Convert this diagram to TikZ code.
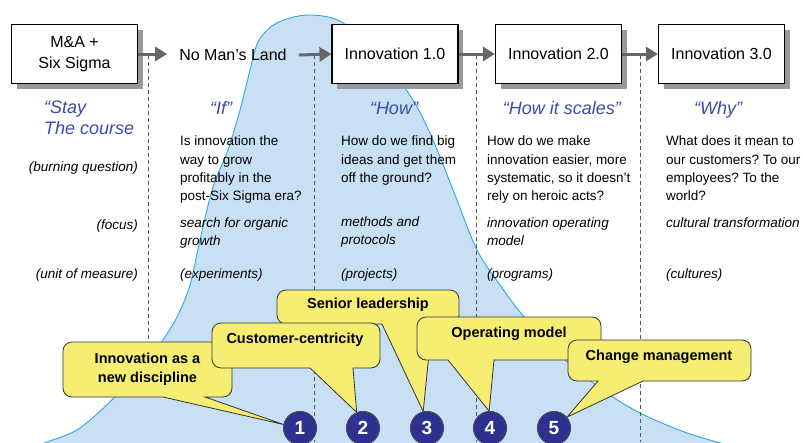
\documentclass[tikz,border=0pt]{standalone}
\usepackage{fontspec}
\setmainfont{Liberation Sans}
\usetikzlibrary{arrows.meta,shadows}
\definecolor{bellfill}{HTML}{C9E0F4}
\definecolor{bellline}{HTML}{2AA8E2}
\definecolor{quoteblue}{HTML}{3B4BA8}
\definecolor{callyellow}{HTML}{F6EE72}
\definecolor{navy}{HTML}{2E3190}
\definecolor{arrowgrey}{HTML}{666666}
\definecolor{dashgrey}{HTML}{555555}
\frenchspacing
\begin{document}
\begin{tikzpicture}[x=1pt,y=-1pt,
  stage/.style={draw=black, line width=1.1pt, fill=white, minimum width=126pt, minimum height=59pt,
    inner sep=0pt, align=center, font=\fontsize{16}{20.5}\selectfont,
    drop shadow={shadow xshift=5pt, shadow yshift=-5pt, fill=gray!80, opacity=1}},
  flow/.style={draw=arrowgrey, line width=3pt, -{Triangle[length=12pt,width=14pt]}},
  divider/.style={draw=dashgrey, line width=0.8pt, dash pattern=on 4pt off 3pt},
  quote/.style={font=\fontsize{18}{21}\selectfont\itshape, text=quoteblue, inner sep=0pt},
  body/.style={font=\fontsize{13.5}{18.3}\selectfont, align=left, inner sep=0pt, anchor=north west},
  bodyit/.style={body, font=\fontsize{13.5}{17.5}\selectfont\itshape},
  rowlabel/.style={font=\fontsize{13.5}{16}\selectfont\itshape, inner sep=0pt, anchor=base east},
  callout/.style={draw=black!80, line width=0.8pt, fill=callyellow},
  calltext/.style={font=\fontsize{14.5}{19.5}\selectfont\bfseries, align=center, inner sep=0pt},
  num/.style={circle, draw=black!70, line width=0.8pt, fill=navy, minimum size=33pt, inner sep=0pt,
    text=white, font=\fontsize{19}{19}\selectfont\bfseries}
]
\useasboundingbox (0,0) rectangle (803,442);
\clip (0,0) rectangle (803,442);

% bell curve
\filldraw[fill=bellfill, draw=bellline, line width=0.9pt]
  plot[smooth, tension=0.55] coordinates {(20,452) (47,442) (80,428) (120,392) (145,364) (163,340) (178,315)
    (190,285) (200,240) (213,187) (228,150) (240,110) (250,70) (258,42) (272,26) (290,18) (310,15)
    (335,19) (360,35) (385,62) (413,100) (433,140) (455,195) (477,250) (500,285) (525,318)
    (560,355) (600,388) (640,413) (690,434) (740,448)} -- (740,460) -- (20,460) -- cycle;

% dividers
\draw[divider] (148,55) -- (148,370);
\draw[divider] (314,55) -- (314,442);
\draw[divider] (476,55) -- (476,442);
\draw[divider] (640,55) -- (640,442);

% stages
\node[stage] (ma) at (74.5,54) {M\&A +\\Six Sigma};
\node[inner xsep=12pt, inner ysep=0pt, font=\fontsize{16}{20}\selectfont] (nml) at (233,55) {No Man’s Land};
\node[stage] (i1) at (395,54) {Innovation 1.0};
\node[stage] (i2) at (558.5,54) {Innovation 2.0};
\node[stage] (i3) at (721.5,54) {Innovation 3.0};

\draw[flow] (ma.east) -- (ma.east -| nml.west);
\draw[flow] (nml.east) -- (i1.west);
\draw[flow] (i1.east) -- (i2.west);
\draw[flow] (i2.east) -- (i3.west);

% quotes
\node[quote, anchor=north west, align=left] (q0) at (44,101) {“Stay\\The course};
\node[quote, anchor=base] (q1) at (221,114) {“If”};
\node[quote, anchor=base] (q2) at (394,114) {“How”};
\node[quote, anchor=base] (q3) at (562,114) {“How it scales”};
\node[quote, anchor=base] (q4) at (718,114) {“Why”};

% row labels
\node[rowlabel] (lb1) at (138,171) {(burning question)};
\node[rowlabel] (lb2) at (138,229) {(focus)};
\node[rowlabel] (lb3) at (138,278) {(unit of measure)};

% burning questions
\node[body] (b1) at (180,136) {Is innovation the\\way to grow\\profitably in the\\post-Six Sigma era?};
\node[body] (b2) at (341,136) {How do we find big\\ideas and get them\\off the ground?};
\node[body] (b3) at (487,136) {How do we make\\innovation easier, more\\systematic, so it doesn’t\\rely on heroic acts?};
\node[body] (b4) at (666,136) {What does it mean to\\our customers? To our\\employees? To the\\world?};

% focus
\node[bodyit] (f1) at (180,218) {search for organic\\growth};
\node[bodyit] (f2) at (341,217) {methods and\\protocols};
\node[bodyit] (f3) at (487,218) {innovation operating\\model};
\node[bodyit] (f4) at (666,218) {cultural transformation};

% units
\node[rowlabel, anchor=base west] (u1) at (180,278) {(experiments)};
\node[rowlabel, anchor=base west] (u2) at (341,278) {(projects)};
\node[rowlabel, anchor=base west] (u3) at (487,278) {(programs)};
\node[rowlabel, anchor=base west] (u4) at (666,278) {(cultures)};

% numbered circles (positions)
\node[num] (c1) at (300,428) {1};
\node[num] (c2) at (363,428) {2};
\node[num] (c3) at (427,428) {3};
\node[num] (c4) at (490,428) {4};
\node[num] (c5) at (554,428) {5};

% callouts
\draw[callout] (c1.168) -- (163,397) [rounded corners=9pt] -- (63,397) -- (63,342) -- (232,342) -- (232,397) [sharp corners] -- (205,397) -- cycle;
\node[calltext] (t1) at (147.5,369) {Innovation as a\\new discipline};

\draw[callout] (c3.103) -- (382,324) [rounded corners=9pt] -- (277,324) -- (277,290) -- (459,290) -- (459,324) [sharp corners] -- (432,324) -- cycle;
\node[calltext] (t3) at (368,305) {Senior leadership};

\draw[callout] (c2.112) -- (310,368) [rounded corners=9pt] -- (212,368) -- (212,323) -- (380,323) -- (380,368) [sharp corners] -- (353,368) -- cycle;
\node[calltext] (t2) at (295,340) {Customer-centricity};

\draw[callout] (c4.93) -- (448,360) [rounded corners=9pt] -- (417,360) -- (417,317) -- (601,317) -- (601,360) [sharp corners] -- (494,360) -- cycle;
\node[calltext] (t4) at (509,334) {Operating model};

\draw[callout] (c5.40) -- (598,381) [rounded corners=9pt] -- (568,381) -- (568,340) -- (751,340) -- (751,381) [sharp corners] -- (643,381) -- cycle;
\node[calltext] (t5) at (659,357) {Change management};

% redraw circles on top
\node[num] at (c1) {1};
\node[num] at (c2) {2};
\node[num] at (c3) {3};
\node[num] at (c4) {4};
\node[num] at (c5) {5};
\end{tikzpicture}
\end{document}
